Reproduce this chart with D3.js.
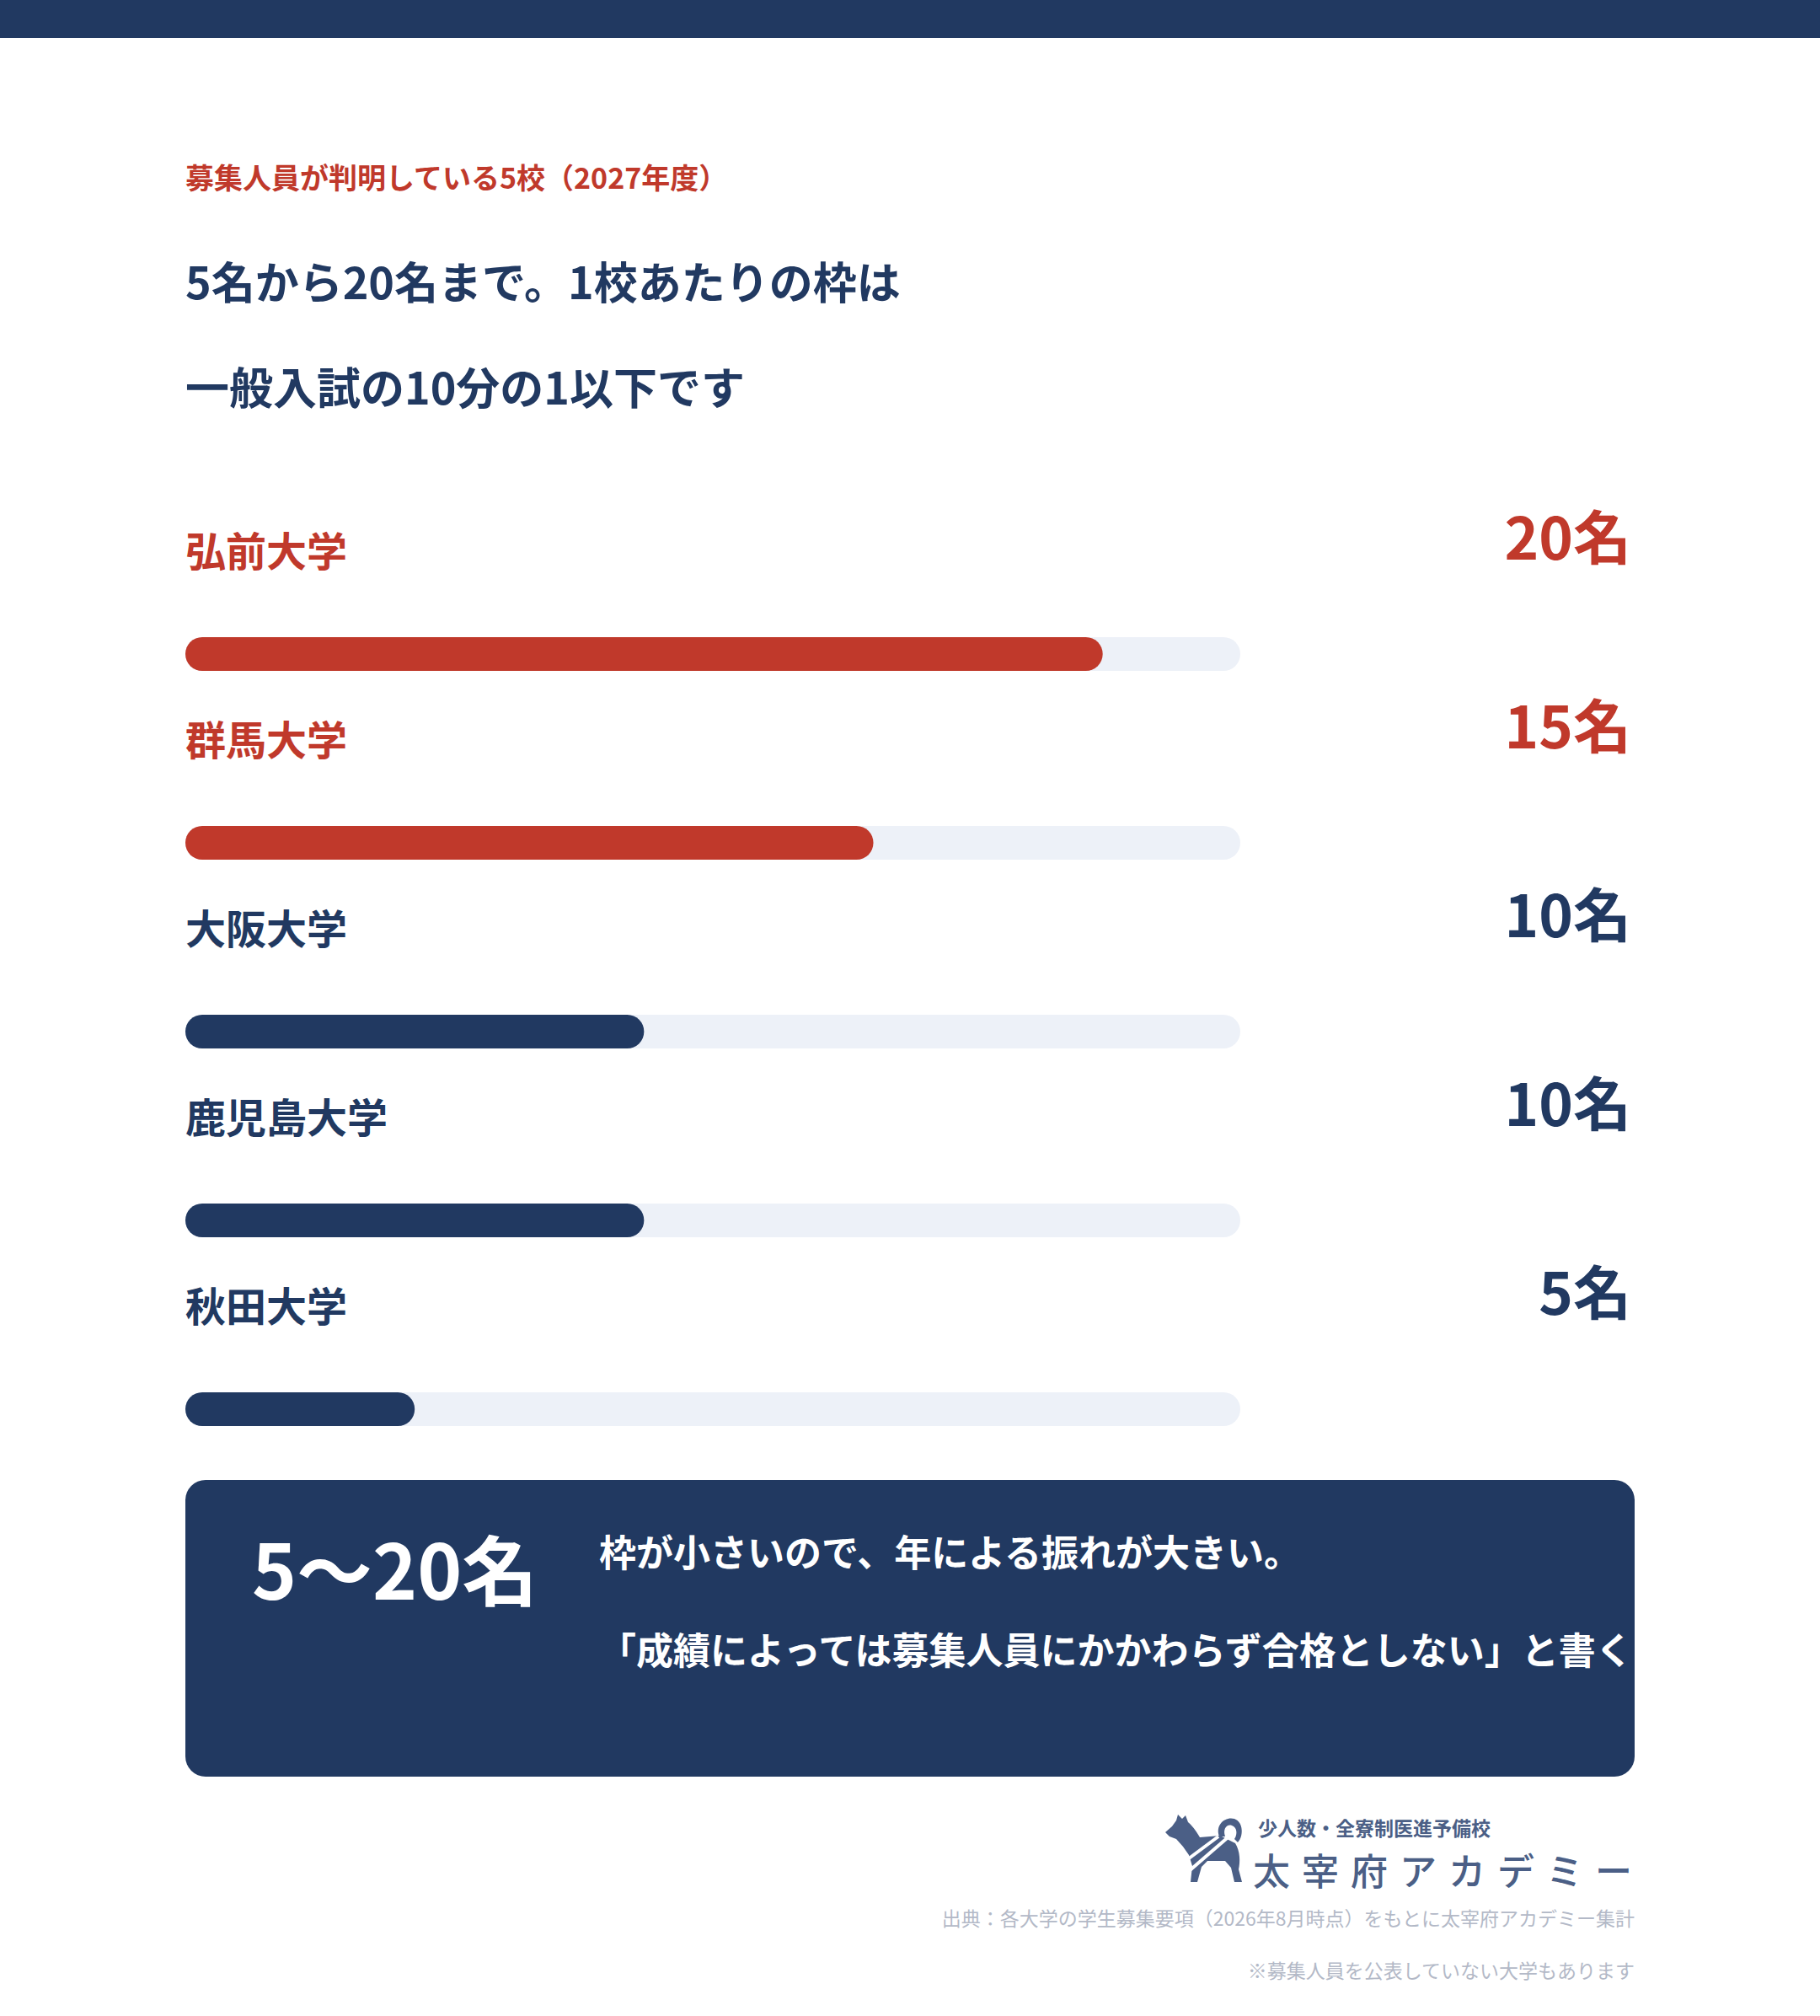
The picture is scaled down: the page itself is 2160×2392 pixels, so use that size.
<!DOCTYPE html>
<html lang="ja">
<head>
<meta charset="utf-8">
<script src="https://cdn.jsdelivr.net/npm/d3@7"></script>
<style>
  html, body { margin: 0; padding: 0; background: #ffffff; }
  svg { display: block; }
  text { font-family: "Noto Sans CJK JP", "Noto Sans", sans-serif; }
</style>
</head>
<body>
<div id="chart"></div>
<script>
// ---- data ----
const kicker = "募集人員が判明している5校（2027年度）";
const titleLines = ["5名から20名まで。1校あたりの枠は", "一般入試の10分の1以下です"];
const schools = ["弘前大学", "群馬大学", "大阪大学", "鹿児島大学", "秋田大学"];
const quotas = [20, 15, 10, 10, 5];
const highlighted = [true, true, false, false, false];
const unit = "名";
const scaleMax = 23;
const boxBig = "5〜20名";
const boxLines = ["枠が小さいので、年による振れが大きい。", "「成績によっては募集人員にかかわらず合格としない」と書く"];
const logoSub = "少人数・全寮制医進予備校";
const logoMain = "太宰府アカデミー";
const notes = ["出典：各大学の学生募集要項（2026年8月時点）をもとに太宰府アカデミー集計", "※募集人員を公表していない大学もあります"];

// ---- style ----
const W = 2160, H = 2392;
const NAVY = "#213961", RED = "#c0392b", TRACK = "#edf1f8", GREY = "#b3b9c7", LOGO = "#4b5f86";

const svg = d3.select("#chart").append("svg")
  .attr("width", W).attr("height", H).attr("viewBox", `0 0 ${W} ${H}`);

svg.append("rect").attr("x", 0).attr("y", 0).attr("width", W).attr("height", 45).attr("fill", NAVY);

svg.append("text").attr("x", 220).attr("y", 224)
  .attr("font-size", 34).attr("font-weight", 700).attr("fill", RED).text(kicker);

svg.selectAll("text.title").data(titleLines).enter().append("text")
  .attr("class", "title")
  .attr("x", 220).attr("y", (d, i) => 355 + i * 125)
  .attr("font-size", 52).attr("font-weight", 700).attr("fill", NAVY).text(d => d);

// ---- scales ----
const x = d3.scaleLinear().domain([0, scaleMax]).range([220, 1472]);
const y = d3.scaleLinear().domain([0, schools.length - 1]).range([756, 1652]);
const barH = 40;

const rows = svg.selectAll("g.row").data(schools.map((s, i) => ({ s, v: quotas[i], h: highlighted[i], i })))
  .enter().append("g").attr("class", "row");

rows.append("rect")
  .attr("x", x(0)).attr("y", d => y(d.i)).attr("width", x(scaleMax) - x(0)).attr("height", barH)
  .attr("rx", barH / 2).attr("fill", TRACK);

rows.append("rect")
  .attr("x", x(0)).attr("y", d => y(d.i)).attr("width", d => x(d.v) - x(0)).attr("height", barH)
  .attr("rx", barH / 2).attr("fill", d => d.h ? RED : NAVY);

rows.append("text")
  .attr("x", x(0)).attr("y", d => y(d.i) - 84)
  .attr("font-size", 48).attr("font-weight", 700)
  .attr("fill", d => d.h ? RED : NAVY).text(d => d.s);

rows.append("text")
  .attr("x", 1936).attr("y", d => y(d.i) - 92)
  .attr("text-anchor", "end")
  .attr("font-size", 69).attr("font-weight", 700)
  .attr("fill", d => d.h ? RED : NAVY).text(d => d.v + unit);

// ---- summary box ----
const defs = svg.append("defs");
defs.append("clipPath").attr("id", "boxclip")
  .append("rect").attr("x", 220).attr("y", 1756).attr("width", 1720).attr("height", 352).attr("rx", 24);

svg.append("rect").attr("x", 220).attr("y", 1756).attr("width", 1720).attr("height", 352)
  .attr("rx", 24).attr("fill", NAVY);

const boxG = svg.append("g").attr("clip-path", "url(#boxclip)");
boxG.append("text").attr("x", 299).attr("y", 1898)
  .attr("font-size", 90).attr("font-weight", 700).attr("fill", "#ffffff").text(boxBig);
boxG.selectAll("text.bl").data(boxLines).enter().append("text")
  .attr("class", "bl")
  .attr("x", 711).attr("y", (d, i) => 1859 + i * 116)
  .attr("font-size", 44).attr("font-weight", 700).attr("fill", "#ffffff").text(d => d);

// ---- logo ----
const logo = svg.append("g").attr("transform", "translate(1370,2145)").attr("fill", LOGO);
logo.append("path").attr("d",
  "M13,29 L21,22 L26,15 L28,8 L33,13 L37,9 L40,17 C47,23 51,30 54,35 L78,33 L96,42 " +
  "C102,52 102,64 100,73 L104,88 L95,88 L91,71 L84,63 L63,63 L56,70 L51,88 L43,88 L45,69 " +
  "L41,56 L34,46 L26,37 L18,34 Z");
logo.append("path").attr("d",
  "M77,34 C72,20 84,10 95,13 C106,17 106,34 99,41 L95,37 C99,31 98,23 92,21 C86,19 81,25 84,34 Z");
logo.append("path").attr("d", "M92,31 L40,76").attr("stroke", "#ffffff").attr("stroke-width", 4).attr("fill", "none");
logo.append("path").attr("d", "M76,34 L33,66").attr("stroke", "#ffffff").attr("stroke-width", 4).attr("fill", "none");

svg.append("text").attr("x", 1493).attr("y", 2178)
  .attr("font-size", 23).attr("font-weight", 700).attr("fill", LOGO).text(logoSub);
svg.append("text").attr("x", 1487).attr("y", 2237)
  .attr("font-size", 44).attr("font-weight", 500).attr("letter-spacing", 14)
  .attr("fill", LOGO).text(logoMain);

// ---- notes ----
svg.selectAll("text.note").data(notes).enter().append("text")
  .attr("class", "note")
  .attr("x", 1940).attr("y", (d, i) => 2285 + i * 62)
  .attr("text-anchor", "end")
  .attr("font-size", 23).attr("fill", GREY).text(d => d);
</script>
</body>
</html>
